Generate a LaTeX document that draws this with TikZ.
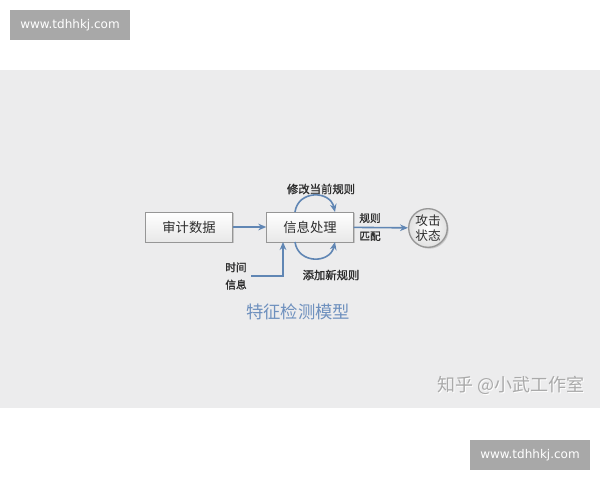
\documentclass[tikz,border=0pt]{standalone}
\usepackage{fontspec}
\setmainfont{Noto Sans CJK SC}
\newfontfamily\webfont{DejaVu Sans}
\newfontfamily\labelfont[FakeBold=1.2]{Noto Sans CJK SC}
\usetikzlibrary{positioning,shadows,arrows.meta}
\definecolor{panel}{RGB}{236,236,237}
\definecolor{flow}{RGB}{96,134,180}
\definecolor{titleblue}{RGB}{110,144,190}
\definecolor{markgray}{RGB}{168,168,168}
\definecolor{edgegray}{RGB}{150,150,150}
\definecolor{textgray}{RGB}{45,45,45}
\tikzset{
	databox/.style={
		draw=edgegray, line width=0.6pt,
		top color=white, bottom color={rgb,255:red,232;green,232;blue,232},
		minimum width=65pt, minimum height=22.5pt,
		text=textgray, font=\fontsize{10}{12}\selectfont,
		drop shadow={opacity=0.35, shadow xshift=1pt, shadow yshift=-1pt}},
	statecircle/.style={
		circle, draw=edgegray, line width=1pt, minimum size=29pt, inner sep=0pt,
		inner color=white, outer color={rgb,255:red,225;green,225;blue,225},
		align=center, text=textgray, font=\fontsize{9.5}{11.5}\selectfont,
		drop shadow={opacity=0.35, shadow xshift=1pt, shadow yshift=-1pt}},
	flowline/.style={
		draw=flow, line width=1.2pt, -{Stealth[length=6pt,width=5pt]}},
	smalllabel/.style={text=textgray, font=\labelfont\fontsize{8.5}{10}\selectfont},
	webmark/.style={fill=markgray, text=white, font=\webfont\fontsize{9}{11}\selectfont,
		minimum width=90pt, minimum height=22.5pt, inner sep=0pt}
}

\begin{document}
\begin{tikzpicture}[x=0.75pt,y=0.75pt,yscale=-1,xscale=1]
\useasboundingbox (0,0) rectangle (600,480);
\fill[white] (0,0) rectangle (600,480);

%panel
\fill[panel] (0,70) rectangle (600,408);

%watermarks
\node[webmark] (webtop) at (70,25) {www.tdhhkj.com};
\node[webmark] (webbottom) at (530,455) {www.tdhhkj.com};

%boxes
\node[databox] (audit) at (189,227) {审计数据};
\node[databox] (process) at (310,227) {信息处理};
\node[statecircle] (attack) at (428,228) {攻击\\状态};

\draw[flowline] (audit) -- (process);
\draw[flowline] (process) -- (attack);

%labels
\node[smalllabel, align=left, font=\labelfont\fontsize{8}{13.5}\selectfont] (match) at (370,227) {规则\\匹配};
\node[smalllabel] (modify) at (321,189) {修改当前规则};
\node[smalllabel] (add) at (331,275) {添加新规则};
\node[smalllabel, align=left, font=\labelfont\fontsize{8}{13}\selectfont] (timeinfo) at (236,276) {时间\\信息};

%time input
\coordinate (timein) at (283,242);
\draw[flowline] (timeinfo.east) -| (timein);

%loops
\coordinate (upa) at (295,212);
\coordinate (upb) at (335,212);
\coordinate (dna) at (295,242);
\coordinate (dnb) at (335,242);
\draw[flowline] (upa) .. controls (298,190) and (330,190) .. (upb);
\draw[flowline] (dna) .. controls (298,264) and (330,264) .. (dnb);

%title
\node[text=titleblue, font=\fontsize{13}{15}\selectfont] (title) at (298,312) {特征检测模型};

\node[text=white, font=\fontsize{13.5}{15}\selectfont] at (512,386) {知乎 @小武工作室};
\node[text={rgb,255:red,170;green,170;blue,170}, font=\fontsize{13.5}{15}\selectfont] (zhihu) at (511,385) {知乎 @小武工作室};

\end{tikzpicture}
\end{document}
